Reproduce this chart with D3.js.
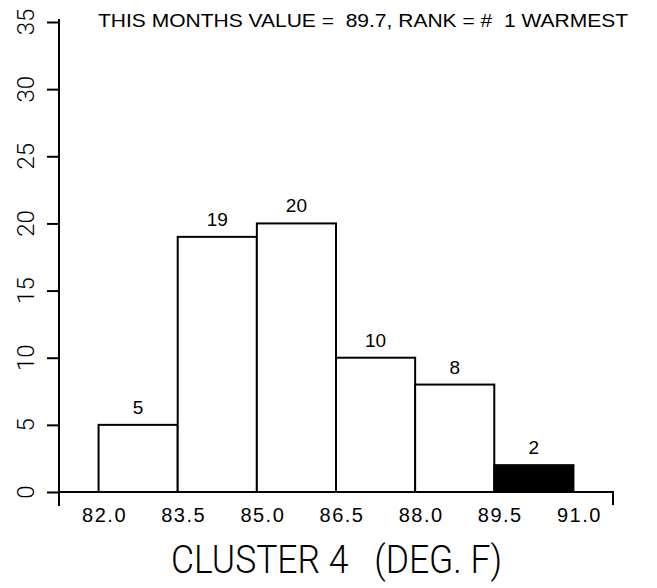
<!DOCTYPE html>
<html>
<head>
<meta charset="utf-8">
<script src="https://cdn.jsdelivr.net/npm/d3@7"></script>
<style>
  body { margin: 0; background: #fff; }
  svg text { font-family: "Liberation Sans", Arial, sans-serif; fill: #000; white-space: pre; }
  svg text.thin { font-family: Roboto, "Liberation Sans", sans-serif; font-weight: 300; }
</style>
</head>
<body>
<div id="chart"></div>
<script>
// histogram bins (deg F) and counts per bin
const binEdges = [82.0, 83.5, 85.0, 86.5, 88.0, 89.5, 91.0];
const binCounts = [5, 19, 20, 10, 8, 2];
const currentBin = 5; // bin holding this month's value, filled black
const yTicks = [0, 5, 10, 15, 20, 25, 30, 35];
const headerText = "THIS MONTHS VALUE =  89.7, RANK = #  1 WARMEST";
const axisTitle = "CLUSTER 4   (DEG. F)";

const width = 657, height = 588;

const svg = d3.select("#chart")
    .append("svg")
        .attr("width", width)
        .attr("height", height);

const x = d3.scaleLinear()
    .domain([81.25, 91.75])
    .range([59, 613]);

const y = d3.scaleLinear()
    .domain([0, 35])
    .range([492, 22]);

const bins = binCounts.map((c, i) => ({x0: binEdges[i], x1: binEdges[i + 1], count: c, idx: i}));

// bars
svg.append("g")
    .selectAll("rect")
    .data(bins)
    .join("rect")
        .attr("x", d => x(d.x0))
        .attr("y", d => y(d.count))
        .attr("width", d => x(d.x1) - x(d.x0))
        .attr("height", d => y(0) - y(d.count))
        .attr("fill", d => d.idx === currentBin ? "#000" : "#fff")
        .attr("stroke", "#000")
        .attr("stroke-width", 2);

// count labels above bars
svg.append("g")
    .selectAll("text")
    .data(bins)
    .join("text")
        .attr("x", d => x((d.x0 + d.x1) / 2))
        .attr("y", d => y(d.count) - 11)
        .attr("text-anchor", "middle")
        .attr("font-size", 19)
        .text(d => d.count);

// y axis
const yAxis = svg.append("g")
    .attr("transform", `translate(${x(81.25)},0)`)
    .call(d3.axisLeft(y)
        .tickValues(yTicks)
        .tickSize(12)
        .tickSizeOuter(0)
        .tickFormat(""));
yAxis.select(".domain").remove();
yAxis.selectAll("line").attr("stroke", "#000").attr("stroke-width", 2);

svg.append("line")
    .attr("x1", x(81.25)).attr("x2", x(81.25))
    .attr("y1", y(35) - 3).attr("y2", y(0) + 14)
    .attr("stroke", "#000")
    .attr("stroke-width", 2);

// rotated y tick labels
svg.append("g")
    .selectAll("text")
    .data(yTicks)
    .join("text")
        .attr("class", "thin")
        .attr("transform", d => `translate(34,${y(d)}) rotate(-90)`)
        .attr("text-anchor", "middle")
        .attr("font-size", 24)
        .text(d => d);

// x axis baseline with end tick
svg.append("line")
    .attr("x1", x(81.25)).attr("x2", x(91.75))
    .attr("y1", y(0)).attr("y2", y(0))
    .attr("stroke", "#000")
    .attr("stroke-width", 2);
svg.append("line")
    .attr("x1", x(91.75)).attr("x2", x(91.75))
    .attr("y1", y(0) - 1).attr("y2", y(0) + 13)
    .attr("stroke", "#000")
    .attr("stroke-width", 2);

// x tick labels at bin edges
svg.append("g")
    .selectAll("text")
    .data(binEdges)
    .join("text")
        .attr("x", d => x(d) + 6)
        .attr("y", 522)
        .attr("text-anchor", "middle")
        .attr("font-size", 20)
        .attr("letter-spacing", 1.5)
        .text(d => d.toFixed(1));

// header
svg.append("text")
    .attr("x", 98)
    .attr("y", 27)
    .attr("font-size", 19)
    .attr("textLength", 530)
    .attr("lengthAdjust", "spacingAndGlyphs")
    .text(headerText);

// axis title
svg.append("text")
    .attr("class", "thin")
    .attr("x", 171)
    .attr("y", 573)
    .attr("font-size", 39)
    .attr("textLength", 331)
    .attr("lengthAdjust", "spacingAndGlyphs")
    .text(axisTitle);
</script>
</body>
</html>
